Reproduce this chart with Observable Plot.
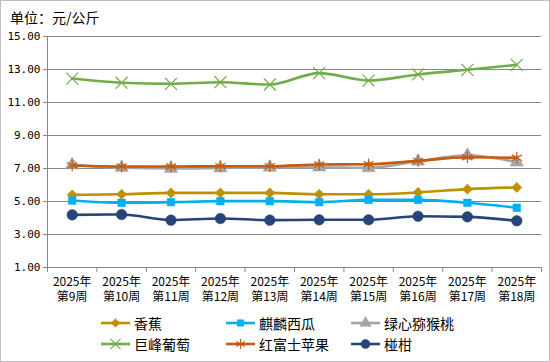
<!DOCTYPE html>
<html>
<head>
<meta charset="utf-8">
<script src="https://cdn.jsdelivr.net/npm/d3@7"></script>
<script src="https://cdn.jsdelivr.net/npm/@observablehq/plot@0.6"></script>
<style>
  html, body { margin: 0; padding: 0; background: #fff; }
  #wrap { position: relative; width: 550px; height: 362px; box-sizing: border-box; border: 1px solid #bfbfbf; font-family: "Noto Sans CJK SC", sans-serif; overflow: hidden; }
  #title { position: absolute; left: 9px; top: 6px; font-size: 14px; color: #000; line-height: 20px; }
  #chart { position: absolute; left: 0; top: 25px; }
  #legend { position: absolute; left: 99px; top: 312px; display: grid; grid-template-columns: 125px 125px 125px; grid-auto-rows: 20.5px; }
  .item { display: flex; align-items: center; font-size: 14px; color: #000; }
  .item svg { margin-right: 3px; }
</style>
</head>
<body>
<div id="wrap">
  <div id="title">单位：元/公斤</div>
  <div id="chart"></div>
  <div id="legend"></div>
</div>
<script>
const yearLabel = "2025年";
const weeks = ["第9周","第10周","第11周","第12周","第13周","第14周","第15周","第16周","第17周","第18周"];
const seriesNames = ["香蕉","麒麟西瓜","绿心猕猴桃","巨峰葡萄","红富士苹果","椪柑"];
const banana     = [5.40, 5.44, 5.52, 5.52, 5.52, 5.44, 5.44, 5.55, 5.75, 5.85];
const watermelon = [5.06, 4.92, 4.96, 5.02, 5.02, 4.96, 5.10, 5.10, 4.92, 4.62];
const kiwi       = [7.22, 7.05, 7.00, 7.03, 7.07, 7.08, 7.04, 7.44, 7.80, 7.38];
const grape      = [12.45, 12.20, 12.13, 12.23, 12.09, 12.78, 12.33, 12.70, 12.98, 13.28];
const apple      = [7.18, 7.12, 7.12, 7.14, 7.14, 7.24, 7.26, 7.46, 7.68, 7.65];
const citrus     = [4.19, 4.21, 3.87, 3.97, 3.87, 3.89, 3.89, 4.11, 4.07, 3.83];
const yTicks = [1, 3, 5, 7, 9, 11, 13, 15];

const values = [banana, watermelon, kiwi, grape, apple, citrus];
const styles = [
  {color: "#BF9000", symbol: "diamond2", r: 4.6, filled: true},
  {color: "#00B0F0", symbol: "square", r: 4.3, filled: true},
  {color: "#A5A5A5", symbol: "triangle", r: 5.0, filled: true},
  {color: "#70AD47", symbol: "times", r: 5.5, filled: false},
  {color: "#C55A11", symbol: "asterisk", r: 5.5, filled: false},
  {color: "#264478", symbol: "circle", r: 5.3, filled: true}
];

const grid = "#868686";
const marks = [
  Plot.gridY(yTicks, {stroke: grid, strokeOpacity: 1, strokeWidth: 1}),
  Plot.ruleX([0], {y1: 1, y2: 15, stroke: grid}),
  Plot.axisY(yTicks, {tickSize: 4, tickPadding: 3, stroke: grid, fill: "#000", tickFormat: d => d.toFixed(2), fontSize: 11, fontFamily: "DejaVu Sans Mono", label: null}),
  Plot.axisX(d3.range(11), {tickSize: 5, stroke: grid, tickFormat: () => "", label: null}),
  Plot.text(weeks, {x: (d, i) => i + 0.5, frameAnchor: "bottom", text: d => yearLabel + "\n" + d, lineAnchor: "top", lineHeight: 1.3, dy: 7, fontSize: 12, fill: "#000"})
];
values.forEach((vals, k) => {
  const s = styles[k];
  const rows = vals.map((v, i) => ({x: i + 0.5, y: v}));
  marks.push(Plot.line(rows, {x: "x", y: "y", stroke: s.color, strokeWidth: 2.6, curve: "monotone-x", style: {filter: "drop-shadow(0px 1.5px 1px rgba(0,0,0,0.25))"}}));
  marks.push(Plot.dot(rows, {x: "x", y: "y", symbol: () => s.symbol, r: s.r,
    fill: s.filled ? s.color : "none", stroke: s.color, strokeWidth: s.filled ? 0.5 : 1.2}));
});

const chart = Plot.plot({
  width: 548,
  height: 282,
  marginLeft: 46,
  marginRight: 8,
  marginTop: 10,
  marginBottom: 41,
  style: {fontFamily: "Noto Sans CJK SC", background: "transparent", overflow: "visible"},
  x: {type: "linear", domain: [0, 10], axis: null},
  y: {domain: [1, 15], axis: null},
  marks
});
document.getElementById("chart").appendChild(chart);

// legend
const symMap = {diamond2: d3.symbolDiamond2, square: d3.symbolSquare, triangle: d3.symbolTriangle, times: d3.symbolTimes, asterisk: d3.symbolAsterisk, circle: d3.symbolCircle};
const legend = d3.select("#legend");
seriesNames.forEach((name, k) => {
  const s = styles[k];
  const item = legend.append("div").attr("class", "item");
  const svg = item.append("svg").attr("width", 31).attr("height", 20);
  svg.append("line").attr("x1", 1).attr("x2", 30).attr("y1", 10).attr("y2", 10).attr("stroke", s.color).attr("stroke-width", 2.6);
  const lr = s.r * 0.85;
  svg.append("path").attr("transform", "translate(15.5,10)")
    .attr("d", d3.symbol(symMap[s.symbol], Math.PI * lr * lr)())
    .attr("fill", s.filled ? s.color : "none").attr("stroke", s.color).attr("stroke-width", s.filled ? 0.5 : 1.2);
  item.append("span").text(name);
});
</script>
</body>
</html>
